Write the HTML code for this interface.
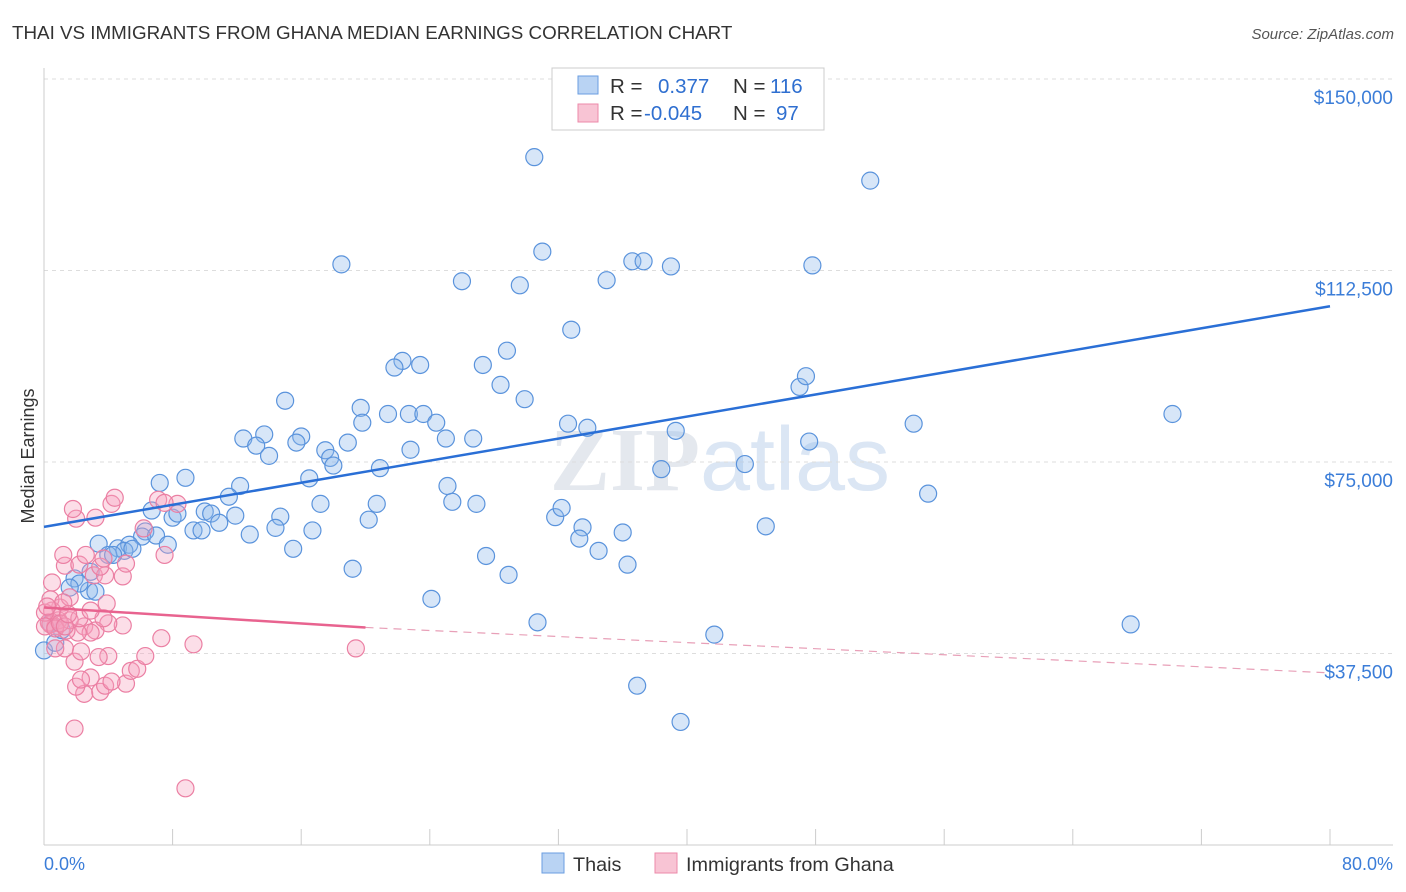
<!DOCTYPE html>
<html><head><meta charset="utf-8"><style>
body{margin:0;background:#fff;font-family:"Liberation Sans",sans-serif;}
svg{display:block}
</style></head><body>
<svg id="chart" width="1406" height="892">
<text x="12" y="39" font-size="18.8" fill="#333">THAI VS IMMIGRANTS FROM GHANA MEDIAN EARNINGS CORRELATION CHART</text>
<text x="1394" y="39" font-size="15" fill="#555" font-style="italic" text-anchor="end">Source: ZipAtlas.com</text>
<text x="720" y="490" font-size="90" fill="#e4e8ee" text-anchor="middle" font-weight="bold" font-family="Liberation Serif,serif">ZIP<tspan fill="#dbe6f4" font-family="Liberation Sans,sans-serif" font-weight="normal">atlas</tspan></text>
<g id="grid"></g>
<line x1="44" y1="68" x2="44" y2="845" stroke="#ccc"/>
<line x1="44" y1="845" x2="1393" y2="845" stroke="#ccc"/>
<text x="34" y="456" font-size="18" fill="#333" text-anchor="middle" transform="rotate(-90 34 456)">Median Earnings</text>
<text x="44" y="870" font-size="18" fill="#3b7dd8">0.0%</text>
<text x="1393" y="870" font-size="18" fill="#3b7dd8" text-anchor="end">80.0%</text>
<g id="marks"></g>
<g>
<rect x="552" y="68" width="272" height="62" fill="#fff" stroke="#ccc"/>
<rect x="578" y="76" width="20" height="18" fill="#b9d3f3" stroke="#6a9ee0"/>
<rect x="578" y="104" width="20" height="18" fill="#f8c4d4" stroke="#ec8aaa"/>
<text x="610" y="93" font-size="20.5" fill="#333">R = <tspan x="658" fill="#2f6fd0">0.377</tspan><tspan x="733" fill="#333">N = </tspan><tspan x="770" fill="#2f6fd0">116</tspan></text>
<text x="610" y="120" font-size="20.5" fill="#333">R = <tspan x="644" fill="#2f6fd0">-0.045</tspan><tspan x="733" fill="#333">N = </tspan><tspan x="776" fill="#2f6fd0">97</tspan></text>
</g>
<g>
<rect x="542" y="853" width="22" height="20" fill="#b9d3f3" stroke="#6a9ee0"/>
<text x="573" y="871" font-size="19.8" fill="#333">Thais</text>
<rect x="655" y="853" width="22" height="20" fill="#f8c4d4" stroke="#ec8aaa"/>
<text x="686" y="871" font-size="19.8" fill="#333">Immigrants from Ghana</text>
</g>
</svg>
<script>
const yTicks=[37500,75000,112500,150000];
const yTickLabels=["$37,500","$75,000","$112,500","$150,000"];
const xTicks=[0,8,16,24,32,40,48,56,64,72,80];
const thaiX=[30.5,51.4,31.0,18.5,26.0,29.6,35.0,36.6,37.3,39.0,47.8,32.8,28.8,27.3,22.3,21.8,23.4,28.4,29.9,47.0,47.4,15.0,19.7,21.4,22.7,23.6,24.4,19.8,32.6,33.8,39.3,54.1,70.2,12.4,13.7,13.2,16.0,15.7,14.0,17.5,18.9,17.8,18.0,25.0,26.7,22.8,47.6,20.9,38.4,43.6,7.2,8.8,12.2,11.5,16.5,17.2,20.7,25.1,25.4,26.9,55.0,6.7,8.0,8.3,10.0,10.4,11.9,10.9,9.3,9.8,12.8,14.7,14.4,16.7,20.2,31.8,32.2,33.5,36.0,44.9,6.3,6.1,6.97,7.7,3.4,4.6,5.3,5.0,5.5,4.0,4.3,15.5,33.3,34.5,27.5,28.9,19.2,36.3,2.9,2.8,1.9,2.2,1.6,3.2,24.1,30.7,41.7,67.6,36.9,39.6,0.0,0.7,1.1,0.4];
const thaiY=[134700,130100,116200,113700,110400,109600,110600,114300,114300,113300,113500,100900,96800,94000,94800,93500,94000,90100,87300,89700,91800,87000,85600,84400,84400,84400,82700,82700,82500,81700,81100,82500,84400,79600,80400,78200,80000,78800,76200,77300,78800,75800,74300,79600,79600,77400,79000,73800,73600,74600,70900,71900,70300,68200,71800,66800,66800,70300,67200,66800,68800,65500,64100,64900,65300,64900,64500,63100,61600,61600,60800,64300,62100,61600,63700,64200,66000,62200,61200,62400,61400,60400,60600,58800,59000,58100,58800,57600,58000,56800,56800,58000,60000,57600,56600,52900,54100,54900,53500,49800,52200,51200,50400,49600,48200,43600,41200,43200,31200,24100,38100,39600,42100,43400];
const ghX=[8.8,1.9,2.5,2.0,3.5,3.8,5.1,2.9,2.3,4.2,5.4,5.8,6.3,4.0,3.4,1.9,2.3,1.3,0.7,19.4,9.3,7.3,4.9,4.0,2.5,3.2,2.9,2.1,1.4,0.7,0.3,0.4,0.9,1.6,2.2,3.7,3.9,2.9,1.0,0.5,0.06,0.4,1.6,1.2,3.1,3.8,4.9,5.1,3.5,1.3,0.5,2.2,3.7,2.6,1.2,7.5,3.2,2.0,6.2,4.2,4.4,1.8,7.1,8.3,7.5,0.06,0.7,1.0,1.3,1.5,0.2];
const ghY=[11100,22800,29600,31000,30000,31200,31600,32800,32400,32000,34100,34500,37000,37000,36800,35900,37900,38500,38500,38500,39300,40500,43000,43400,42800,42000,41600,41600,42000,42800,43600,43200,44000,44000,44400,44400,47300,45900,46500,45900,45500,48100,48500,47500,52800,52800,52600,55100,54500,54700,51400,54900,56100,56800,56800,56800,64100,63900,62000,66800,68000,65800,67600,66800,67000,42800,42400,43400,42800,45200,46700];
const blueLine=[[0,62300],[80,105500]];
const pinkLine=[[0,46500],[20,42600],[80,33700]];
const X=v=>44+v*16.075;
const Yf=v=>845-(v/37500)*191.5;
const NS="http://www.w3.org/2000/svg";
const grid=document.getElementById('grid'), marks=document.getElementById('marks');
function mk(tag,attrs,parent){const e=document.createElementNS(NS,tag);for(const k in attrs)e.setAttribute(k,attrs[k]);parent.appendChild(e);return e;}
yTicks.forEach((t,i)=>{
 const g=mk('line',{x1:44,x2:1393,y1:Yf(t),y2:Yf(t),stroke:'#ddd','stroke-dasharray':'4,4'},grid);
 
 
 const l=mk('text',{x:1393,y:Yf(t)+25,'font-size':19,fill:'#3b7dd8','text-anchor':'end'},grid);
 l.textContent=yTickLabels[i];
 
 
});
xTicks.forEach(t=>{
 const l=mk('line',{x1:X(t),x2:X(t),y1:829,y2:845,stroke:'#ccc'},grid);
 
 
});
thaiX.forEach((x,i)=>{
 const c=mk('circle',{cx:X(x),cy:Yf(thaiY[i]),r:8.5,fill:'rgba(140,182,236,0.35)',stroke:'#5a93dc','stroke-width':1.2},marks);
 
 
});
ghX.forEach((x,i)=>{
 const c=mk('circle',{cx:X(x),cy:Yf(ghY[i]),r:8.5,fill:'rgba(245,160,188,0.35)',stroke:'#eb7fa3','stroke-width':1.2},marks);
 
 
});
const bl=mk('line',{x1:X(blueLine[0][0]),y1:Yf(blueLine[0][1]),x2:X(blueLine[1][0]),y2:Yf(blueLine[1][1]),stroke:'#2a6fd6','stroke-width':2.5},marks);


const p1=mk('line',{x1:X(pinkLine[0][0]),y1:Yf(pinkLine[0][1]),x2:X(pinkLine[1][0]),y2:Yf(pinkLine[1][1]),stroke:'#e8638f','stroke-width':2.5},marks);


const p2=mk('line',{x1:X(pinkLine[1][0]),y1:Yf(pinkLine[1][1]),x2:X(pinkLine[2][0]),y2:Yf(pinkLine[2][1]),stroke:'#e8a0b8','stroke-width':1.2,'stroke-dasharray':'8,6'},marks);


</script>
</body></html>
